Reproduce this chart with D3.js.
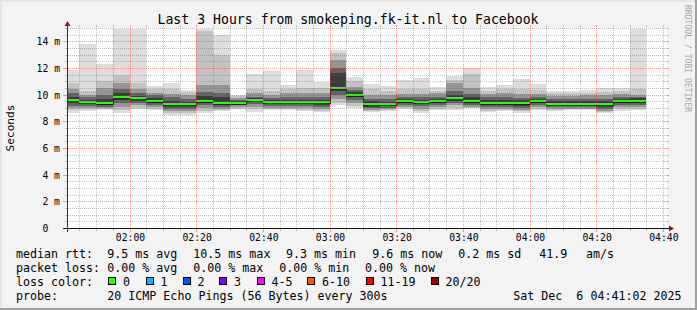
<!DOCTYPE html>
<html><head><meta charset="utf-8">
<script src="https://cdn.jsdelivr.net/npm/d3@7"></script>
<style>html,body{margin:0;padding:0;background:#f3f3f3;} svg{display:block;} text{white-space:pre;}</style>
</head><body><svg id="c" width="697" height="310"></svg>
<script>
// ---- data (5-minute steps, values in ms) ----
const times = ["01:40","01:45","01:50","01:55","02:00","02:05","02:10","02:15","02:20","02:25","02:30","02:35",
  "02:40","02:45","02:50","02:55","03:00","03:05","03:10","03:15","03:20","03:25","03:30","03:35",
  "03:40","03:45","03:50","03:55","04:00","04:05","04:10","04:15","04:20","04:25","04:30"];
const median = [9.6,9.45,9.38,9.85,9.75,9.55,9.28,9.28,9.55,9.4,9.4,9.62,9.45,9.45,9.45,9.45,10.5,10.0,9.28,9.28,9.55,9.45,9.55,9.72,9.55,9.4,9.4,9.4,9.55,9.33,9.33,9.33,9.33,9.55,9.55];
const pMax = [11.85,13.8,12.3,14.95,14.95,10.65,10.9,10.35,14.95,14.45,10.0,11.55,11.8,10.7,11.85,10.97,13.35,11.35,10.8,10.65,11.1,11.25,10.55,11.42,11.98,10.55,10.72,11.15,10.8,10.3,10.3,10.35,10.47,10.47,14.95];
const p19 = [10.85,10.3,11.0,11.5,10.85,10.4,10.4,10.2,14.8,13.0,9.9,10.4,10.3,10.45,10.5,10.5,13.1,11.0,10.4,10.3,10.4,10.4,10.3,11.1,11.55,10.3,10.4,10.4,10.35,10.1,10.1,10.15,10.2,10.3,10.45];
const p17 = [10.45,10.0,10.5,10.9,10.4,10.15,10.05,10.0,10.7,10.7,9.75,10.1,10.0,10.1,10.1,10.15,12.6,10.6,10.0,9.95,10.05,10.05,10.1,10.9,10.5,10.05,10.1,10.05,10.05,9.9,9.9,9.95,9.95,10.05,10.0];
const p14 = [10.1,9.8,10.0,10.4,10.1,9.95,9.8,9.7,10.2,10.1,9.6,9.85,9.75,9.8,9.8,9.8,12.0,10.35,9.7,9.65,9.85,9.8,9.85,10.3,10.05,9.8,9.8,9.75,9.8,9.7,9.65,9.7,9.7,9.85,9.85];
const p12 = [9.8,9.6,9.7,10.1,9.9,9.75,9.5,9.45,9.9,9.8,9.5,9.72,9.6,9.62,9.62,9.62,11.6,10.2,9.5,9.45,9.7,9.6,9.7,9.95,9.8,9.6,9.6,9.6,9.7,9.5,9.5,9.5,9.5,9.7,9.72];
const p9  = [9.35,9.3,9.25,9.6,9.55,9.35,9.05,9.05,9.35,9.2,9.3,9.45,9.3,9.3,9.3,9.2,10.3,9.8,9.1,9.12,9.4,9.3,9.4,9.55,9.4,9.2,9.25,9.15,9.35,9.15,9.15,9.15,9.1,9.35,9.4];
const p7  = [9.17,9.15,9.1,9.4,9.4,9.2,8.9,8.9,9.2,9.05,9.2,9.3,9.15,9.15,9.15,9.05,10.0,9.6,8.98,9.0,9.25,9.15,9.25,9.4,9.25,9.05,9.1,9.0,9.2,9.05,9.05,9.05,8.95,9.2,9.25];
const p4  = [9.02,9.0,9.0,9.1,9.2,9.05,8.75,8.75,9.0,8.95,9.05,9.1,9.0,9.0,9.0,8.9,9.7,9.35,8.88,8.9,9.1,8.95,9.1,9.2,9.1,8.9,8.95,8.85,9.05,8.95,8.95,8.95,8.8,9.05,9.1];
const p2  = [8.85,8.9,8.9,8.85,9.0,8.95,8.6,8.6,8.8,8.85,8.95,8.9,8.9,8.9,8.88,8.8,9.4,9.15,8.8,8.85,9.0,8.75,8.95,9.0,9.02,8.8,8.85,8.75,8.95,8.87,8.9,8.9,8.7,8.9,8.95];
const pMin = [8.65,8.8,8.85,8.6,8.9,8.85,8.48,8.48,8.6,8.8,8.9,8.72,8.85,8.85,8.8,8.72,9.22,8.97,8.72,8.8,8.9,8.6,8.85,8.85,8.97,8.72,8.8,8.65,8.85,8.8,8.85,8.85,8.6,8.8,8.85];
const yTicks = [0,2,4,6,8,10,12,14];
const yTickLabels = ["0","2 m","4 m","6 m","8 m","10 m","12 m","14 m"];
const lossLabels = ["0","1","2","3","4-5","6-10","11-19","20/20"];
const lossColors = ["#26ff00","#00b8ff","#0059ff","#7e00ff","#ff00ff","#ff5500","#ff0000","#a10000"];
const rttLabels = ["9.5 ms avg","10.5 ms max","9.3 ms min","9.6 ms now","0.2 ms sd","41.9","am/s"];
const lossStats = ["0.00 % avg","0.00 % max","0.00 % min","0.00 % now"];

// ---- layout ----
const W=697,H=310, x0=67, x1=667, yTop=28, yBot=228;
const mono = "'DejaVu Sans Mono', monospace";
const svg = d3.select("#c");
const T = s => { const [h,m]=s.split(":").map(Number); return new Date(Date.UTC(2025,11,6,h,m,0)); };
const tStart = new Date(Date.UTC(2025,11,6,1,41,15)), tEnd = new Date(Date.UTC(2025,11,6,4,41,15));
const x = d3.scaleUtc().domain([tStart,tEnd]).range([x0,x1]);
const y = d3.scaleLinear().domain([0,15]).range([yBot,yTop]);
const step = 5*60*1000;

const defs = svg.append("defs");
function dotPattern(id, w, h, col){
  const p = defs.append("pattern").attr("id",id).attr("patternUnits","userSpaceOnUse")
    .attr("x",0).attr("y",0).attr("width",w).attr("height",h);
  p.append("rect").attr("x",0).attr("y",0).attr("width",1).attr("height",1).attr("fill",col).attr("shape-rendering","crispEdges");
}
const minorCol = "rgba(110,110,110,0.42)", majorCol = "rgba(235,50,50,0.48)";
dotPattern("hMinor",2,1,minorCol); dotPattern("hMajor",2,1,majorCol);
dotPattern("vMinor",1,2,minorCol); dotPattern("vMajor",1,2,majorCol);

svg.append("rect").attr("width",W).attr("height",H).attr("fill","#f3f3f3");
svg.append("rect").attr("x",0).attr("y",0).attr("width",W).attr("height",2).attr("fill","#e6e6e6");
svg.append("rect").attr("x",0).attr("y",0).attr("width",2).attr("height",H).attr("fill","#e6e6e6");
svg.append("rect").attr("x",0).attr("y",H-2).attr("width",W).attr("height",2).attr("fill","#a0a0a0");
svg.append("rect").attr("x",W-2).attr("y",0).attr("width",2).attr("height",H).attr("fill","#a0a0a0");

svg.append("rect").attr("x",x0).attr("y",yTop).attr("width",x1-x0).attr("height",yBot-yTop).attr("fill","#ffffff");
defs.append("clipPath").attr("id","clip").append("rect")
  .attr("x",x0).attr("y",yTop-5).attr("width",x1-x0).attr("height",yBot-yTop+5);

const g = svg.append("g").attr("clip-path","url(#clip)").attr("shape-rendering","crispEdges");
const bands = [[pMin,pMax,"#dddddd"],[p2,p19,"#c2c2c2"],[p4,p17,"#959595"],[p7,p14,"#636363"],[p9,p12,"#3c3c3c"]];
bands.forEach(([lo,hi,col])=>{
  g.append("g").selectAll("rect").data(times).join("rect")
    .attr("x",(d)=>Math.round(x(T(d))))
    .attr("width",(d)=>Math.round(x(new Date(+T(d)+step)))-Math.round(x(T(d))))
    .attr("y",(d,i)=>Math.round(y(hi[i])))
    .attr("height",(d,i)=>Math.round(y(lo[i]))-Math.round(y(hi[i])))
    .attr("fill",col);
});
// median dark step line
const stepPts = [];
times.forEach((d,i)=>{ const yy=Math.round(y(median[i]))+1.5; stepPts.push([Math.round(x(T(d))),yy]); stepPts.push([Math.round(x(new Date(+T(d)+step))),yy]); });
g.append("path").attr("d",d3.line()(stepPts)).attr("fill","none").attr("stroke","#202020").attr("stroke-width",1);
g.append("g").selectAll("rect").data(times).join("rect")
  .attr("x",(d)=>Math.round(x(T(d))))
  .attr("width",(d)=>Math.round(x(new Date(+T(d)+step)))-Math.round(x(T(d))))
  .attr("y",(d,i)=>Math.round(y(median[i]))-1)
  .attr("height",2)
  .attr("fill",lossColors[0]);

// ---- grid (dotted via patterns) ----
const grid = svg.append("g").attr("shape-rendering","crispEdges");
const hVals = d3.range(1,31).map(k=>k*0.5);
hVals.forEach(v=>{
  const major = (v%2===0);
  const yy = Math.round(y(v));
  grid.append("rect").attr("x",x0+1).attr("y",yy).attr("width",x1-x0).attr("height",1)
    .attr("fill",major?"url(#hMajor)":"url(#hMinor)");
  const col = major?majorCol:minorCol;
  grid.append("rect").attr("x",x0-(major?4:2)).attr("y",yy).attr("width",major?4:2).attr("height",1).attr("fill",col);
  grid.append("rect").attr("x",x1).attr("y",yy).attr("width",2).attr("height",1).attr("fill",col);
});
const vTimes = d3.utcMinute.every(5).range(tStart,new Date(+tEnd+1));
vTimes.forEach(t=>{
  const major = t.getUTCMinutes()%20===0;
  const xx = Math.round(x(t));
  grid.append("rect").attr("x",xx).attr("y",yTop-1).attr("width",1).attr("height",yBot-yTop+1)
    .attr("fill",major?"url(#vMajor)":"url(#vMinor)");
  const col = major?majorCol:minorCol;
  grid.append("rect").attr("x",xx).attr("y",yBot+1).attr("width",1).attr("height",major?3:2).attr("fill",col);
  grid.append("rect").attr("x",xx).attr("y",yTop-3).attr("width",1).attr("height",2).attr("fill",col);
});

// ---- axes ----
const ax = svg.append("g").attr("shape-rendering","crispEdges");
ax.append("line").attr("x1",x0-4).attr("x2",x1+4).attr("y1",yBot+0.5).attr("y2",yBot+0.5).attr("stroke","#111");
ax.append("line").attr("x1",x0+0.5).attr("x2",x0+0.5).attr("y1",yBot+4).attr("y2",yTop-4).attr("stroke","#333");
svg.append("path").attr("d",`M${x1+2},${yBot-2.5}L${x1+7},${yBot+0.5}L${x1+2},${yBot+3.5}Z`).attr("fill","#8b1a1a");
svg.append("path").attr("d",`M${x0-2.5},${yTop-2}L${x0+0.5},${yTop-7}L${x0+3.5},${yTop-2}Z`).attr("fill","#8b1a1a");

// y tick labels via d3 axis
const yAxis = d3.axisLeft(y).tickValues(yTicks).tickSize(0).tickPadding(0)
  .tickFormat((d,i)=>yTickLabels[i]);
const yg = svg.append("g").attr("transform",`translate(${60},0)`).call(yAxis);
yg.select(".domain").remove();
yg.selectAll("text").attr("font-family",mono).attr("font-size","9.75px").attr("fill","#000").attr("dy","0.36em")
  .attr("dx",(d)=>d===0?-11.7:0);

const xAxis = d3.axisBottom(x).ticks(d3.utcMinute.every(20)).tickSize(0).tickPadding(0)
  .tickFormat(d3.utcFormat("%H:%M"));
const xg = svg.append("g").attr("transform",`translate(0.5,${234})`).call(xAxis);
xg.select(".domain").remove();
xg.selectAll("text").attr("font-family",mono).attr("font-size","9.75px").attr("fill","#000").attr("dy","0.71em");

// ---- titles ----
svg.append("text").attr("x",348).attr("y",23.5).attr("text-anchor","middle")
  .attr("font-family",mono).attr("font-size","13.2px").attr("fill","#000")
  .text("Last 3 Hours from smokeping.fk-it.nl to Facebook");
svg.append("text").attr("transform","translate(14,128) rotate(-90)").attr("text-anchor","middle")
  .attr("font-family",mono).attr("font-size","11.1px").attr("fill","#000").text("Seconds");
svg.append("text").attr("transform","translate(685,5) rotate(90)").attr("text-anchor","start")
  .attr("font-family",mono).attr("font-size","8.1px").attr("fill","#a8a8a8").text("RRDTOOL / TOBI OETIKER");

// ---- legend ----
const L = svg.append("g").attr("font-family",mono).attr("font-size","11.65px").attr("fill","#000");
const rows = [257.5,271.5,285.5,299.5];
L.append("text").attr("x",16).attr("y",rows[0]).text("median rtt:");
[107.3,193.3,286,372.3,458.3,539.3,586].forEach((xx,i)=>L.append("text").attr("x",xx).attr("y",rows[0]).text(rttLabels[i]));
L.append("text").attr("x",16).attr("y",rows[1]).text("packet loss:");
[107.3,193.3,279.3,365].forEach((xx,i)=>L.append("text").attr("x",xx).attr("y",rows[1]).text(lossStats[i]));
L.append("text").attr("x",16).attr("y",rows[2]).text("loss color:");
const boxX = [108,145.5,182.5,219,256.5,307,365.5,430.5];
boxX.forEach((bx,i)=>{
  L.append("rect").attr("x",Math.round(bx)+0.5).attr("y",277.5).attr("width",7).attr("height",7)
    .attr("fill",lossColors[i]).attr("stroke","#000").attr("stroke-width",1);
  L.append("text").attr("x",bx+15).attr("y",rows[2]).text(lossLabels[i]);
});
L.append("text").attr("x",16).attr("y",rows[3]).text("probe:");
L.append("text").attr("x",107.3).attr("y",rows[3]).text("20 ICMP Echo Pings (56 Bytes) every 300s");
L.append("text").attr("x",513.3).attr("y",rows[3]).text("Sat Dec  6 04:41:02 2025");
</script></body></html>
